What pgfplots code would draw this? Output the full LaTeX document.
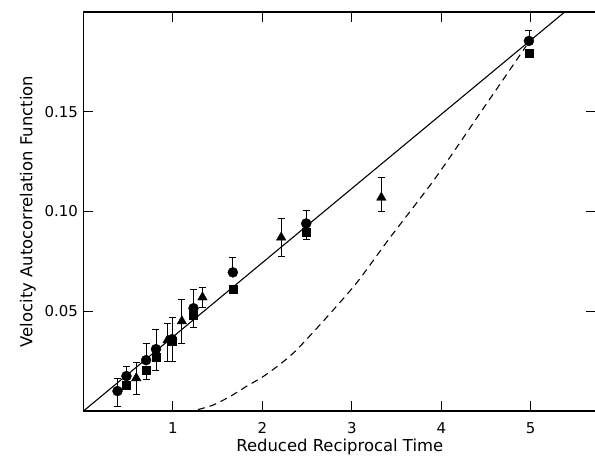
\documentclass[border=0pt]{standalone}
\usepackage{fontspec}
\setmainfont{DejaVu Sans}
\usepackage{pgfplots}
\pgfplotsset{compat=1.18}

\begin{document}
\begin{tikzpicture}[x=1bp,y=1bp]
\begin{axis}[
    name=ax,
    scale only axis,
    width=512.5bp, height=399bp,
    xmin=0, xmax=5.73,
    ymin=0, ymax=0.2,
    xtick={1,2,3,4,5},
    ytick={0.05,0.10,0.15},
    yticklabels={0.05,0.10,0.15},
    tick align=inside,
    major tick length=10bp,
    axis line style={line width=1.2pt},
    every tick/.style={black, line width=1pt},
    tick label style={font=\fontsize{15}{18}\selectfont},
    /pgf/number format/assume math mode=true,
    xticklabel style={inner sep=0.5bp, yshift=-11bp},
    yticklabel style={xshift=-2bp},
    xlabel={Reduced Reciprocal Time},
    ylabel={Velocity Autocorrelation Function},
    label style={font=\fontsize{16.5}{19}\selectfont},
    xlabel style={inner sep=0.5bp, yshift=-4bp},
    ylabel style={yshift=2bp},
    clip=true,
]
% theory lines
\addplot[black, line width=1.1pt] coordinates {(0,0) (5.38,0.2)};
\addplot[black, line width=1.1pt, dash pattern=on 7bp off 5bp, smooth, tension=0.4] coordinates {
    (1.28,0.0007) (1.45,0.003) (1.64,0.0073) (1.82,0.0123) (2.01,0.0173)
    (2.20,0.0235) (2.38,0.0305) (2.68,0.045) (3.05,0.064) (3.42,0.0865)
    (3.93,0.1165) (4.46,0.151) (4.95,0.183)
};
% circles
\addplot[black, only marks, mark=*, mark size=5bp,
    error bars/.cd, y dir=both, y explicit,
    error bar style={line width=0.8pt},
    error mark options={rotate=90, mark size=3.5bp, line width=0.8pt}]
coordinates {
    (0.38,0.010) += (0,0.0065) -= (0,0.0075)
    (0.48,0.0175) += (0,0.005) -= (0,0)
    (0.70,0.0255) += (0,0.0085) -= (0,0)
    (0.81,0.031) += (0,0.0097) -= (0,0)
    (0.99,0.036) += (0,0.011) -= (0,0)
    (1.23,0.0515) += (0,0.0095) -= (0,0)
    (1.67,0.0695) += (0,0.0075) -= (0,0)
    (2.49,0.094) += (0,0.0065) -= (0,0)
    (4.98,0.1855) += (0,0.0055) -= (0,0)
};
% squares
\addplot[black, only marks, mark=square*, mark size=4bp,
    error bars/.cd, y dir=both, y explicit,
    error bar style={line width=0.8pt},
    error mark options={rotate=90, mark size=3.5bp, line width=0.8pt}]
coordinates {
    (0.48,0.013) += (0,0) -= (0,0)
    (0.70,0.0205) += (0,0) -= (0,0.0045)
    (0.81,0.027) += (0,0) -= (0,0.0065)
    (0.99,0.035) += (0,0) -= (0,0.010)
    (1.23,0.048) += (0,0) -= (0,0.006)
    (1.67,0.061) += (0,0) -= (0,0)
    (2.49,0.0895) += (0,0) -= (0,0.0035)
    (4.98,0.1795) += (0,0) -= (0,0)
};
% triangles
\addplot[black, only marks, mark=triangle*, mark size=5.5bp,
    error bars/.cd, y dir=both, y explicit,
    error bar style={line width=0.8pt},
    error mark options={rotate=90, mark size=3.5bp, line width=0.8pt}]
coordinates {
    (0.59,0.0165) +- (0,0.008)
    (0.94,0.0355) += (0,0.0085) -= (0,0.0105)
    (1.10,0.045) +- (0,0.011)
    (1.33,0.057) +- (0,0.005)
    (2.21,0.087) +- (0,0.0095)
    (3.33,0.107) += (0,0.010) -= (0,0.007)
};
\end{axis}
\pgfresetboundingbox
\path ([xshift=-83.5bp,yshift=-48bp]ax.south west) rectangle ([xshift=511.5bp,yshift=411bp]ax.south west);
\end{tikzpicture}
\end{document}
